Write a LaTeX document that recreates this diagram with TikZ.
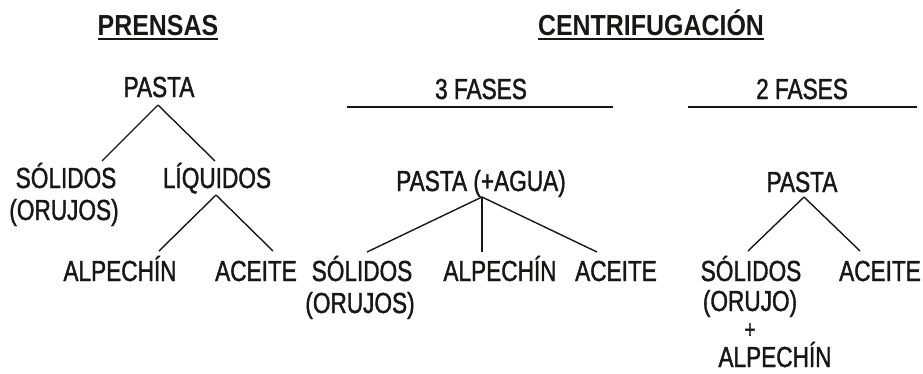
\documentclass[tikz,border=0pt]{standalone}
\usepackage{fontspec}
\setmainfont{Liberation Sans}[FakeStretch=0.78,FakeBold=1.3]
\newfontfamily\headfont{Liberation Sans Bold}[FakeStretch=0.86]
\definecolor{ink}{RGB}{22,24,20}
\begin{document}
\begin{tikzpicture}[x=1pt,y=-1pt,
  lbl/.style={inner sep=0pt, outer sep=0pt, text height=20pt, text depth=0pt,
              font=\fontsize{29}{32}\selectfont, text=ink},
  head/.style={lbl, font=\headfont\fontsize{29}{32}\selectfont},
  conn/.style={draw=ink, line width=1.4pt},
  rule/.style={draw=ink, line width=1.6pt},
  uline/.style={draw=ink, line width=2pt}]
\useasboundingbox (0,0) rectangle (923,373);

% headings
\node[head] (prensas) at (158,25) {PRENSAS};
\node[head] (centri) at (651,25) {CENTRIFUGACIÓN};
\draw[uline] ([yshift=-4pt]prensas.south west) -- ([yshift=-4pt]prensas.south east);
\draw[uline] ([yshift=-4pt]centri.south west) -- ([yshift=-4pt]centri.south east);

% PRENSAS tree
\node[lbl] (pastaP) at (159,87) {PASTA};
\node[lbl] (solP) at (66,178) {SÓLIDOS};
\node[lbl] (oruP) at (64,210) {(ORUJOS)};
\node[lbl] (liqP) at (217,178) {LÍQUIDOS};
\node[lbl] (alpP) at (120,271) {ALPECHÍN};
\node[lbl] (aceP) at (256,271) {ACEITE};
\draw[conn] ([xshift=-1pt,yshift=-8pt]pastaP.south) -- ([xshift=36pt,yshift=7pt]solP.north);
\draw[conn] ([xshift=-1pt,yshift=-8pt]pastaP.south) -- ([xshift=-2pt,yshift=7pt]liqP.north);
\draw[conn] ([xshift=-1pt,yshift=-7pt]liqP.south) -- ([xshift=39pt,yshift=10pt]alpP.north);
\draw[conn] ([xshift=-1pt,yshift=-7pt]liqP.south) -- ([xshift=17pt,yshift=10pt]aceP.north);

% 3 FASES
\node[lbl] (fase3) at (481,89) {3 FASES};
\draw[rule] (347,107) -- (613,107);
\node[lbl] (pastaA) at (481,181) {PASTA (+AGUA)};
\node[lbl] (sol3) at (362,271) {SÓLIDOS};
\node[lbl] (oru3) at (360,303) {(ORUJOS)};
\node[lbl] (alp3) at (500,271) {ALPECHÍN};
\node[lbl] (ace3) at (616,271) {ACEITE};
\draw[conn] ([xshift=1pt,yshift=-6pt]pastaA.south) -- ([xshift=5pt,yshift=9pt]sol3.north);
\draw[conn] ([xshift=1pt,yshift=-6pt]pastaA.south) -- ([xshift=-18pt,yshift=9pt]alp3.north);
\draw[conn] ([xshift=1pt,yshift=-6pt]pastaA.south) -- ([xshift=-19pt,yshift=9pt]ace3.north);

% 2 FASES
\node[lbl] (fase2) at (802,89) {2 FASES};
\draw[rule] (688,107) -- (917,107);
\node[lbl] (pasta2) at (802,182) {PASTA};
\node[lbl] (sol2) at (751,271) {SÓLIDOS};
\node[lbl] (oru2) at (750,301) {(ORUJO)};
\node[lbl, text height=16pt, font=\fontsize{25}{28}\selectfont] (plus2) at (750,330) {+};
\node[lbl] (alp2) at (775,357) {ALPECHÍN};
\node[lbl] (ace2) at (880,271) {ACEITE};
\draw[conn] ([xshift=2pt,yshift=-5pt]pasta2.south) -- ([xshift=-3pt,yshift=10pt]sol2.north);
\draw[conn] ([xshift=2pt,yshift=-5pt]pasta2.south) -- ([xshift=-20pt,yshift=10pt]ace2.north);
\end{tikzpicture}
\end{document}
